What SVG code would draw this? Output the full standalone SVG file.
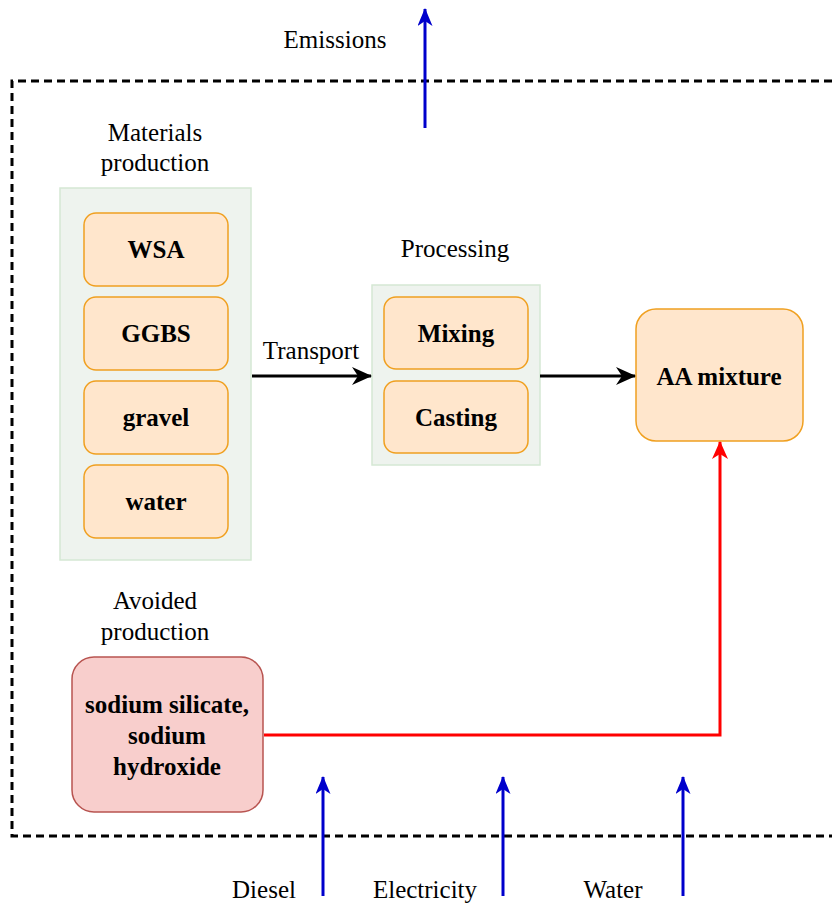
<svg xmlns="http://www.w3.org/2000/svg" width="832" height="905" viewBox="0 0 832 905">
  <style>
    .lbl { font-family: "Liberation Serif", "Times New Roman", serif; font-size: 25px; fill: #000; text-anchor: middle; }
    .bold { font-weight: bold; }
    .grp { fill: #eef3ee; stroke: #d5e8d4; stroke-width: 1.5; }
    .item { fill: #ffe6cc; stroke: #f0a020; stroke-width: 1.5; }
    .avoid { fill: #f8cecc; stroke: #b85450; stroke-width: 1.5; }
    .flow { fill: none; stroke: #000; stroke-width: 3; }
    .red { fill: none; stroke: #ff0000; stroke-width: 3; }
    .blue { fill: none; stroke: #0000cc; stroke-width: 3; }
    .boundary { fill: none; stroke: #000; stroke-width: 3; stroke-dasharray: 8 5; }
  </style>
  <defs>
    <marker id="arrBlack" viewBox="0 0 20 18" refX="19" refY="9" markerWidth="20" markerHeight="18" markerUnits="userSpaceOnUse" orient="auto">
      <path d="M0,0 L20,9 L0,18 L6,9 Z" fill="#000"/>
    </marker>
    <marker id="arrRed" viewBox="0 0 18 16" refX="17" refY="8" markerWidth="18" markerHeight="16" markerUnits="userSpaceOnUse" orient="auto">
      <path d="M0,0 L18,8 L0,16 L5,8 Z" fill="#ff0000"/>
    </marker>
    <marker id="arrBlue" viewBox="0 0 18 15" refX="17" refY="7.5" markerWidth="18" markerHeight="15" markerUnits="userSpaceOnUse" orient="auto">
      <path d="M0,0 L18,7.5 L0,15 L5,7.5 Z" fill="#0000cc"/>
    </marker>
  </defs>

  <!-- system boundary -->
  <path class="boundary" d="M832,81 H12 V836 H832"/>

  <!-- group containers -->
  <g id="materials-production">
    <rect class="grp" x="60" y="188" width="191" height="372"/>
    <text class="lbl" x="155" y="141">Materials</text>
    <text class="lbl" x="155" y="171">production</text>
  </g>
  <g id="processing">
    <rect class="grp" x="372" y="285" width="168" height="180"/>
    <text class="lbl" x="455" y="257">Processing</text>
  </g>

  <g id="wsa">
    <rect class="item" x="84" y="213" width="144" height="73" rx="12"/>
    <text class="lbl bold" x="156" y="258">WSA</text>
  </g>
  <g id="ggbs">
    <rect class="item" x="84" y="297" width="144" height="73" rx="12"/>
    <text class="lbl bold" x="156" y="342">GGBS</text>
  </g>
  <g id="gravel">
    <rect class="item" x="84" y="381" width="144" height="73" rx="12"/>
    <text class="lbl bold" x="156" y="426">gravel</text>
  </g>
  <g id="water">
    <rect class="item" x="84" y="465" width="144" height="73" rx="12"/>
    <text class="lbl bold" x="156" y="510">water</text>
  </g>
  <g id="mixing">
    <rect class="item" x="384" y="297" width="144" height="72" rx="12"/>
    <text class="lbl bold" x="456" y="342">Mixing</text>
  </g>
  <g id="casting">
    <rect class="item" x="384" y="381" width="144" height="72" rx="12"/>
    <text class="lbl bold" x="456" y="426">Casting</text>
  </g>
  <g id="aa-mixture">
    <rect class="item" x="636" y="309" width="167" height="132" rx="20"/>
    <text class="lbl bold" x="719" y="385">AA mixture</text>
  </g>
  <g id="avoided-production">
    <text class="lbl" x="155" y="609">Avoided</text>
    <text class="lbl" x="155" y="640">production</text>
    <rect class="avoid" x="72" y="657" width="191" height="155" rx="22"/>
    <text class="lbl bold" x="167" y="713">sodium silicate,</text>
    <text class="lbl bold" x="167" y="744">sodium</text>
    <text class="lbl bold" x="167" y="775">hydroxide</text>
  </g>

  <!-- flows -->
  <g id="connectors">
    <line class="flow" x1="252" y1="376" x2="371" y2="376" marker-end="url(#arrBlack)"/>
    <text class="lbl" x="311" y="359">Transport</text>
    <line class="flow" x1="540" y1="376" x2="635" y2="376" marker-end="url(#arrBlack)"/>
    <path class="red" d="M264,735 H720 V442" marker-end="url(#arrRed)"/>

    <line class="blue" x1="425" y1="128" x2="425" y2="9" marker-end="url(#arrBlue)"/>
    <text class="lbl" x="335" y="48">Emissions</text>

    <line class="blue" x1="323" y1="896" x2="323" y2="777" marker-end="url(#arrBlue)"/>
    <text class="lbl" x="264" y="898">Diesel</text>
    <line class="blue" x1="503" y1="896" x2="503" y2="777" marker-end="url(#arrBlue)"/>
    <text class="lbl" x="425" y="898">Electricity</text>
    <line class="blue" x1="683" y1="896" x2="683" y2="777" marker-end="url(#arrBlue)"/>
    <text class="lbl" x="613" y="898">Water</text>
  </g>
</svg>
